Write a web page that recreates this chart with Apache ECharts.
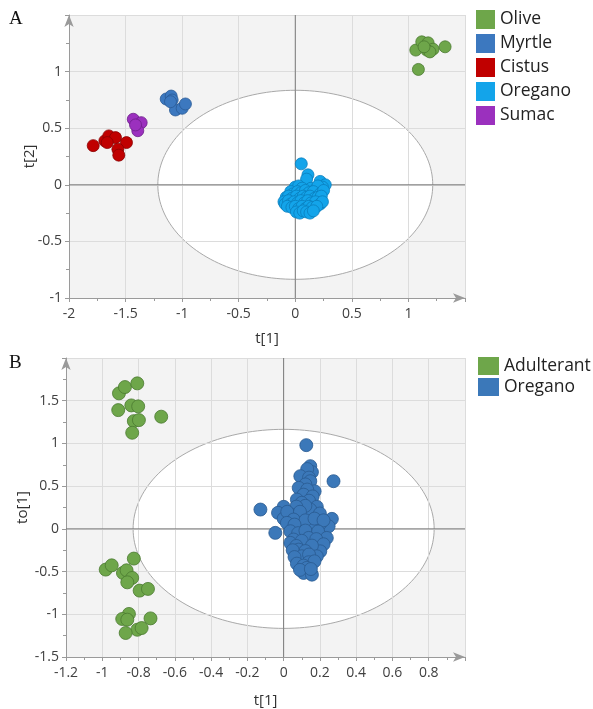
<!DOCTYPE html>
<html>
<head>
<meta charset="utf-8">
<script src="https://cdn.jsdelivr.net/npm/echarts@6/dist/echarts.min.js"></script>
<style>html,body{margin:0;padding:0;background:#fff}#c{width:593px;height:709px}</style>
</head>
<body>
<div id="c"></div>
<script>
// ---- Panel A data (t[1], t[2]) ----
const oliveA = [[1.065,1.19],[1.118,1.263],[1.174,1.254],[1.218,1.198],[1.162,1.19],[1.324,1.219],[1.088,1.019],[1.19,1.174],[1.138,1.219]];
const myrtleA = [[-1.141,0.758],[-1.097,0.784],[-1.088,0.749],[-1.059,0.661],[-1.0,0.676],[-0.971,0.714],[-1.103,0.734]];
const cistusA = [[-1.786,0.346],[-1.683,0.388],[-1.648,0.432],[-1.589,0.417],[-1.492,0.373],[-1.568,0.315],[-1.56,0.262],[-1.662,0.373]];
const sumacA = [[-1.432,0.579],[-1.362,0.549],[-1.392,0.478],[-1.412,0.529]];
const oreganoA = [[0.053,0.185],[0.112,0.088],[0.10,0.05],[0.22,0.03],[0.265,0.0],[0.24,-0.02],
 [0.0,-0.02],[0.03,-0.01],[0.06,-0.03],[0.14,-0.03],[0.18,-0.04],[0.2,-0.01],
 [-0.04,-0.06],[-0.02,-0.08],[0.02,-0.06],[0.05,-0.07],[0.09,-0.05],[0.12,-0.07],[0.16,-0.06],[0.22,-0.08],[0.25,-0.05],
 [-0.08,-0.11],[-0.06,-0.1],[-0.03,-0.12],[0.01,-0.1],[0.04,-0.12],[0.07,-0.1],[0.1,-0.11],[0.13,-0.1],[0.17,-0.12],[0.2,-0.11],[0.23,-0.1],
 [-0.1,-0.15],[-0.09,-0.17],[-0.06,-0.14],[-0.04,-0.17],[-0.01,-0.15],[0.02,-0.16],[0.05,-0.14],[0.08,-0.16],[0.11,-0.14],[0.14,-0.16],[0.18,-0.15],[0.22,-0.17],[0.24,-0.15],
 [-0.07,-0.19],[-0.03,-0.2],[0.0,-0.19],[0.03,-0.21],[0.06,-0.19],[0.09,-0.21],[0.12,-0.19],[0.15,-0.2],[0.19,-0.19],
 [0.01,-0.24],[0.04,-0.25],[0.07,-0.23],[0.1,-0.24],[0.13,-0.25],[0.16,-0.23]];
const legendA = ['Olive','Myrtle','Cistus','Oregano','Sumac'];
const ellipseA = [1.215, 0.835];

// ---- Panel B data (t[1], to[1]) ----
const adulterantB = [[-0.908,1.586],[-0.875,1.66],[-0.807,1.703],[-0.912,1.39],[-0.84,1.445],[-0.802,1.434],[-0.826,1.261],[-0.798,1.273],[-0.835,1.125],[-0.675,1.313],
 [-0.981,-0.477],[-0.948,-0.427],[-0.826,-0.348],[-0.886,-0.516],[-0.866,-0.485],[-0.835,-0.574],[-0.862,-0.626],[-0.794,-0.723],[-0.748,-0.703],
 [-0.853,-0.996],[-0.89,-1.055],[-0.862,-1.063],[-0.734,-1.048],[-0.807,-1.181],[-0.783,-1.161],[-0.871,-1.219]];
const oreganoB = [[0.125,0.98],[0.275,0.558],[-0.128,0.226],[-0.046,-0.047],
 [0.147,0.734],[0.156,0.664],[0.13,0.70],[0.092,0.617],[0.14,0.60],[0.147,0.558],[0.12,0.52],[0.083,0.48],[0.171,0.44],[0.13,0.46],[0.11,0.40],[0.16,0.38],[0.073,0.343],[0.14,0.33],[0.10,0.305],[0.183,0.258],[0.147,0.226],[0.12,0.27],[0.07,0.26],
 [0.0,0.258],[-0.031,0.188],[0.037,0.168],[0.0,0.12],[0.02,0.2],[0.09,0.2],[0.2,0.18],[0.266,0.117],[0.248,0.03],[0.202,0.062],[0.055,0.109],[0.097,0.023],[0.156,0.03],[0.12,0.1],[0.17,0.12],[0.22,0.1],[0.018,0.07],[0.06,0.05],[0.037,-0.028],[0.08,-0.05],[0.12,-0.02],[0.19,-0.03],[0.238,-0.106],[0.138,-0.106],[0.055,-0.125],[0.1,-0.14],[0.18,-0.12],[0.22,-0.18],[0.037,-0.164],[0.07,-0.2],
 [0.083,-0.243],[0.202,-0.263],[0.156,-0.196],[0.12,-0.26],[0.05,-0.25],[0.1,-0.321],[0.183,-0.321],[0.14,-0.3],[0.06,-0.33],[0.073,-0.407],[0.138,-0.391],[0.17,-0.38],[0.11,-0.43],[0.128,-0.457],[0.11,-0.516],[0.156,-0.536],[0.09,-0.48],[0.15,-0.47]];
const legendB = ['Adulterant','Oregano'];
const ellipseB = [0.83, 1.165];

const colors = {Olive:'#6ea64a', Myrtle:'#3c78bf', Cistus:'#c00000', Oregano:'#13a4ea', Sumac:'#9b30be', Adulterant:'#6ea64a', OreganoB:'#3b78b9'};
const borders = {Olive:'#4a7a30', Myrtle:'#2a5a96', Cistus:'#8a0000', Oregano:'#0a7dbd', Sumac:'#6d1e8a', Adulterant:'#4a7a30', OreganoB:'#2a5a90'};

const FONT = 'Open Sans';
function axisBase(min, max, interval, hideAbove, gi, name, gap, margin) {
  return {
    gridIndex: gi, type: 'value', min: min, max: max, interval: interval, z: 2,
    name: name, nameLocation: 'middle', nameGap: gap, nameMoveOverlap: false,
    nameTextStyle: {fontFamily: FONT, fontSize: 15, color: '#333'},
    axisLine: {show: true, onZero: false, symbol: ['none','arrow'], symbolSize: [7, 12], lineStyle: {color: '#9a9a9a', width: 1}},
    axisTick: {show: true, inside: false, length: 4, lineStyle: {color: '#9a9a9a'}},
    minorTick: {show: true, splitNumber: 2, length: 3, lineStyle: {color: '#9a9a9a'}},
    splitLine: {show: true, lineStyle: {color: '#dcdcdc', width: 1}},
    axisLabel: {fontFamily: FONT, fontSize: 14, color: '#404040', margin: margin,
      formatter: v => (v > hideAbove ? '' : String(+v.toFixed(2)))}
  };
}

function ellipseSeries(xi, radii) {
  return {
    type: 'custom', xAxisIndex: xi, yAxisIndex: xi, z: 1, silent: true,
    data: [[0, 0]],
    renderItem: function (params, api) {
      const pts = [];
      for (let i = 0; i <= 180; i++) {
        const t = i / 180 * Math.PI * 2;
        pts.push(api.coord([radii[0] * Math.cos(t), radii[1] * Math.sin(t)]));
      }
      return {type: 'polygon', shape: {points: pts}, style: {fill: '#ffffff', stroke: '#a9a9a9', lineWidth: 1}};
    }
  };
}
function zeroLines(xi, xr, yr) {
  return {
    type: 'custom', xAxisIndex: xi, yAxisIndex: xi, z: 3, silent: true,
    data: [[0, 0]],
    renderItem: function (params, api) {
      const a = api.coord([0, yr[0]]), b = api.coord([0, yr[1]]);
      const c = api.coord([xr[0], 0]), d = api.coord([xr[1], 0]);
      return {type: 'group', children: [
        {type: 'line', shape: {x1: a[0], y1: a[1], x2: b[0], y2: b[1]}, style: {stroke: '#7a7a7a', lineWidth: 1}},
        {type: 'line', shape: {x1: c[0], y1: c[1], x2: d[0], y2: d[1]}, style: {stroke: '#7a7a7a', lineWidth: 1}}
      ]};
    }
  };
}
function scatter(name, data, xi, key, size) {
  return {
    type: 'scatter', name: name, data: data, xAxisIndex: xi, yAxisIndex: xi, z: 4,
    symbolSize: size,
    itemStyle: {color: colors[key], borderColor: borders[key], borderWidth: 0.8, opacity: 1}
  };
}

const chart = echarts.init(document.getElementById('c'), null, {renderer: 'canvas'});
chart.setOption({
  animation: false,
  grid: [
    {left: 69, top: 15, width: 396, height: 283, backgroundColor: '#f3f3f3', show: true, borderWidth: 0, z: 0},
    {left: 66, top: 358, width: 399, height: 299, backgroundColor: '#f3f3f3', show: true, borderWidth: 0, z: 0}
  ],
  xAxis: [axisBase(-2, 1.5, 0.5, 1.4, 0, 't[1]', 33, 9), axisBase(-1.2, 1.0, 0.2, 0.85, 1, 't[1]', 36, 9)],
  yAxis: [axisBase(-1, 1.5, 0.5, 1.4, 0, 't[2]', 32, 7), axisBase(-1.5, 2.0, 0.5, 1.6, 1, 'to[1]', 36, 7)],
  legend: [
    {orient: 'vertical', left: 476, top: 10, padding: 0, itemGap: 5, itemWidth: 19, itemHeight: 19, icon: 'rect',
     textStyle: {fontFamily: FONT, fontSize: 17.5, color: '#222'},
     data: legendA.map(n => ({name: n, itemStyle: {color: colors[n], borderWidth: 0}}))},
    {orient: 'vertical', left: 478, top: 357, padding: 0, itemGap: 3, itemWidth: 21, itemHeight: 18, icon: 'rect',
     textStyle: {fontFamily: FONT, fontSize: 17.5, color: '#222'},
     data: legendB.map(n => ({name: n, itemStyle: {color: n === 'Oregano' ? colors.OreganoB : colors[n], borderWidth: 0}}))}
  ],
  graphic: [
    {type: 'text', left: 9, top: 10, style: {text: 'A', font: '19px "Liberation Serif"', fill: '#111'}},
    {type: 'text', left: 9, top: 354, style: {text: 'B', font: '19px "Liberation Serif"', fill: '#111'}}
  ],
  series: [
    ellipseSeries(0, ellipseA),
    zeroLines(0, [-2, 1.5], [-1, 1.5]),
    scatter('Olive', oliveA, 0, 'Olive', 12),
    scatter('Myrtle', myrtleA, 0, 'Myrtle', 12),
    scatter('Cistus', cistusA, 0, 'Cistus', 12),
    scatter('Oregano', oreganoA, 0, 'Oregano', 12),
    scatter('Sumac', sumacA, 0, 'Sumac', 12),
    ellipseSeries(1, ellipseB),
    zeroLines(1, [-1.2, 1.0], [-1.5, 2.0]),
    scatter('Adulterant', adulterantB, 1, 'Adulterant', 13),
    scatter('Oregano', oreganoB, 1, 'OreganoB', 13)
  ]
});
</script>
</body>
</html>
